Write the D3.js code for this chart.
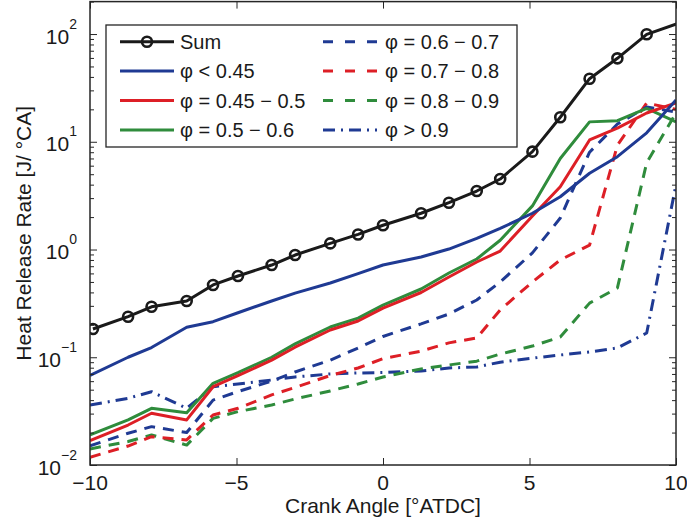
<!DOCTYPE html>
<html lang="en">
<head>
<meta charset="UTF-8">
<title>Heat Release Rate</title>
<script src="https://d3js.org/d3.v7.min.js"></script>
<style>
    body { margin: 0; background: #fff; }
    svg { display: block; font-family: "Liberation Sans", Arial, Helvetica, sans-serif; }
</style>
</head>
<body>
<svg width="687" height="522"></svg>
<script>
    // crank angle samples [deg ATDC]
    const sumAngle = [-9.9, -8.7, -7.9, -6.7, -5.8, -4.95, -3.8, -3.0, -1.8, -0.85, 0.0, 1.3, 2.25, 3.2, 4.0, 5.1, 6.05, 7.05, 8.0, 9.0, 10.3];
    const binAngle = [-10, -8.7, -7.9, -6.7, -5.8, -4.95, -3.8, -3.0, -1.8, -0.85, 0.0, 1.3, 2.25, 3.2, 4.0, 5.1, 6.05, 7.05, 8.0, 9.0, 10];

    // heat release rate [J/deg CA]
    const sumRate = [0.183, 0.238, 0.294, 0.333, 0.469, 0.568, 0.718, 0.889, 1.14, 1.38, 1.68, 2.17, 2.72, 3.49, 4.51, 8.1, 16.9, 38.5, 59.5, 99.4, 132];
    const phiBelow045 = [0.068, 0.100, 0.123, 0.190, 0.214, 0.259, 0.333, 0.394, 0.489, 0.598, 0.718, 0.851, 1.01, 1.27, 1.57, 2.17, 3.09, 5.1, 7.27, 12.1, 24.4];
    const phi045to05 = [0.0168, 0.0235, 0.0302, 0.0262, 0.0533, 0.0675, 0.094, 0.124, 0.179, 0.217, 0.286, 0.399, 0.556, 0.766, 0.968, 2.05, 3.83, 10.4, 13.4, 18.5, 22.9];
    const phi05to06 = [0.019, 0.0262, 0.0336, 0.0305, 0.0573, 0.072, 0.100, 0.133, 0.191, 0.231, 0.305, 0.43, 0.605, 0.817, 1.22, 2.54, 7.0, 15.3, 15.7, 20.4, 15.3];
    const phi06to07 = [0.0151, 0.0197, 0.0227, 0.0200, 0.040, 0.048, 0.0602, 0.073, 0.094, 0.122, 0.156, 0.204, 0.252, 0.34, 0.50, 0.93, 1.96, 8.0, 14.6, 21, 18.9];
    const phi07to08 = [0.0118, 0.0150, 0.0183, 0.0171, 0.0291, 0.0336, 0.0447, 0.0524, 0.0677, 0.0795, 0.097, 0.114, 0.136, 0.151, 0.275, 0.50, 0.80, 1.10, 9.3, 22.9, 20];
    const phi08to09 = [0.0141, 0.0165, 0.019, 0.0153, 0.0271, 0.0313, 0.036, 0.041, 0.0487, 0.0565, 0.0656, 0.078, 0.0848, 0.092, 0.107, 0.127, 0.154, 0.318, 0.44, 6.4, 18.5];
    const phiAbove09 = [0.036, 0.0416, 0.0479, 0.0336, 0.0533, 0.0565, 0.0615, 0.0656, 0.070, 0.0715, 0.0722, 0.0745, 0.0795, 0.0813, 0.090, 0.098, 0.105, 0.112, 0.122, 0.168, 4.0];

    const seriesNames = ["Sum", "φ < 0.45", "φ = 0.45 − 0.5", "φ = 0.5 − 0.6",
        "φ = 0.6 − 0.7", "φ = 0.7 − 0.8", "φ = 0.8 − 0.9", "φ > 0.9"];

    const xTicks = [-10, -5, 0, 5, 10];
    const xTickLabels = ["−10", "−5", "0", "5", "10"];
    const yDecades = [-2, -1, 0, 1, 2];
    const yDecadeLabels = ["−2", "−1", "0", "1", "2"];

    const BLUE = "#1f3a93", RED = "#dd1f26", GREEN = "#2f8c3c";
    const DASH = "11,8", DASHDOT = "12,6,2,6";

    // line table built from the arrays above
    const series = [
        { name: seriesNames[0], x: sumAngle, y: sumRate, color: "#1a1a1a", dash: null, marker: true },
        { name: seriesNames[1], x: binAngle, y: phiBelow045, color: BLUE, dash: null },
        { name: seriesNames[2], x: binAngle, y: phi045to05, color: RED, dash: null },
        { name: seriesNames[3], x: binAngle, y: phi05to06, color: GREEN, dash: null },
        { name: seriesNames[4], x: binAngle, y: phi06to07, color: BLUE, dash: DASH },
        { name: seriesNames[5], x: binAngle, y: phi07to08, color: RED, dash: DASH },
        { name: seriesNames[6], x: binAngle, y: phi08to09, color: GREEN, dash: DASH },
        { name: seriesNames[7], x: binAngle, y: phiAbove09, color: BLUE, dash: DASHDOT }
    ];

    const svg = d3.select("svg");
    const plotLeft = 90, plotRight = 676, plotTop = 1.6, plotBottom = 465;
    const axisColor = "#262626";

    const x = d3.scaleLinear().domain([-10, 10]).range([plotLeft, plotRight]);
    const y = d3.scaleLog().domain([0.01, 200]).range([plotBottom, plotTop]);

    svg.append("clipPath").attr("id", "plot-clip")
        .append("rect")
        .attr("x", plotLeft).attr("y", plotTop)
        .attr("width", plotRight - plotLeft).attr("height", plotBottom - plotTop);

    // draw in reverse so Sum ends up on top
    const plot = svg.append("g").attr("clip-path", "url(#plot-clip)");
    const line = d3.line();

    series.slice().reverse().forEach(s => {
        const pts = s.x.map((a, i) => [x(a), y(s.y[i])]);
        plot.append("path")
            .attr("d", line(pts))
            .attr("fill", "none")
            .attr("stroke", s.color)
            .attr("stroke-width", 3)
            .attr("stroke-linejoin", "round")
            .attr("stroke-dasharray", s.dash);
        if (s.marker) {
            plot.selectAll(null)
                .data(pts)
                .enter()
                .append("circle")
                .attr("cx", d => d[0])
                .attr("cy", d => d[1])
                .attr("r", 5)
                .attr("fill", "none")
                .attr("stroke", s.color)
                .attr("stroke-width", 2.6);
        }
    });

    // minor ticks for log axis
    const minorTicks = [];
    yDecades.forEach(p => {
        for (let k = 2; k <= 9; k++) {
            const v = k * Math.pow(10, p);
            if (v <= 200) minorTicks.push(v);
        }
    });

    function styleAxis(g) {
        g.select(".domain").remove();
        g.selectAll("line").attr("stroke", axisColor).attr("stroke-width", 1);
    }

    const majorY = yDecades.map(p => Math.pow(10, p));

    svg.append("g").attr("transform", `translate(0,${plotBottom})`)
        .call(d3.axisBottom(x).tickValues(xTicks).tickSize(-7).tickFormat("")).call(styleAxis);
    svg.append("g").attr("transform", `translate(0,${plotTop})`)
        .call(d3.axisTop(x).tickValues(xTicks).tickSize(-7).tickFormat("")).call(styleAxis);
    svg.append("g").attr("transform", `translate(${plotLeft},0)`)
        .call(d3.axisLeft(y).tickValues(majorY).tickSize(-7).tickFormat("")).call(styleAxis);
    svg.append("g").attr("transform", `translate(${plotLeft},0)`)
        .call(d3.axisLeft(y).tickValues(minorTicks).tickSize(-4).tickFormat("")).call(styleAxis);
    svg.append("g").attr("transform", `translate(${plotRight},0)`)
        .call(d3.axisRight(y).tickValues(majorY).tickSize(-7).tickFormat("")).call(styleAxis);
    svg.append("g").attr("transform", `translate(${plotRight},0)`)
        .call(d3.axisRight(y).tickValues(minorTicks).tickSize(-4).tickFormat("")).call(styleAxis);

    // frame
    svg.append("rect")
        .attr("x", plotLeft).attr("y", plotTop)
        .attr("width", plotRight - plotLeft).attr("height", plotBottom - plotTop)
        .attr("fill", "none")
        .attr("stroke", axisColor)
        .attr("stroke-width", 1.5);

    // tick labels
    svg.selectAll(".xlab")
        .data(xTicks)
        .enter()
        .append("text")
        .attr("x", d => x(d))
        .attr("y", 490)
        .attr("text-anchor", "middle")
        .attr("font-size", 21)
        .attr("fill", "#1a1a1a")
        .text((d, i) => xTickLabels[i]);

    yDecades.forEach((p, i) => {
        const t = svg.append("text")
            .attr("x", 77)
            .attr("y", y(Math.pow(10, p)) + 9.5)
            .attr("text-anchor", "end")
            .attr("font-size", 21)
            .attr("fill", "#1a1a1a");
        t.append("tspan").text("10");
        t.append("tspan").attr("dy", -15).attr("font-size", 14).text(yDecadeLabels[i]);
    });

    // axis titles
    svg.append("text")
        .attr("x", (plotLeft + plotRight) / 2)
        .attr("y", 513)
        .attr("text-anchor", "middle")
        .attr("font-size", 21)
        .attr("fill", "#1a1a1a")
        .text("Crank Angle [°ATDC]");

    svg.append("text")
        .attr("transform", `translate(31,${(plotTop + plotBottom) / 2}) rotate(-90)`)
        .attr("text-anchor", "middle")
        .attr("font-size", 21)
        .attr("fill", "#1a1a1a")
        .text("Heat Release Rate [J/ °CA]");

    // legend
    const legend = svg.append("g");
    legend.append("rect")
        .attr("x", 106).attr("y", 25)
        .attr("width", 411).attr("height", 122)
        .attr("fill", "#fff")
        .attr("stroke", axisColor)
        .attr("stroke-width", 1.3);

    series.forEach((s, i) => {
        const col = Math.floor(i / 4), row = i % 4;
        const x0 = col === 0 ? 120 : 323;
        const cy = 41.7 + row * 29.4;
        legend.append("line")
            .attr("x1", x0).attr("x2", x0 + 54)
            .attr("y1", cy).attr("y2", cy)
            .attr("stroke", s.color)
            .attr("stroke-width", 3)
            .attr("stroke-dasharray", s.dash === DASH ? "10,12" : s.dash);
        if (s.marker) {
            legend.append("circle")
                .attr("cx", x0 + 27).attr("cy", cy).attr("r", 5)
                .attr("fill", "none")
                .attr("stroke", s.color)
                .attr("stroke-width", 2.6);
        }
        legend.append("text")
            .attr("x", col === 0 ? 180 : 385)
            .attr("y", cy + 7)
            .attr("font-size", 20)
            .attr("fill", "#1a1a1a")
            .text(s.name);
    });
</script>
</body>
</html>
